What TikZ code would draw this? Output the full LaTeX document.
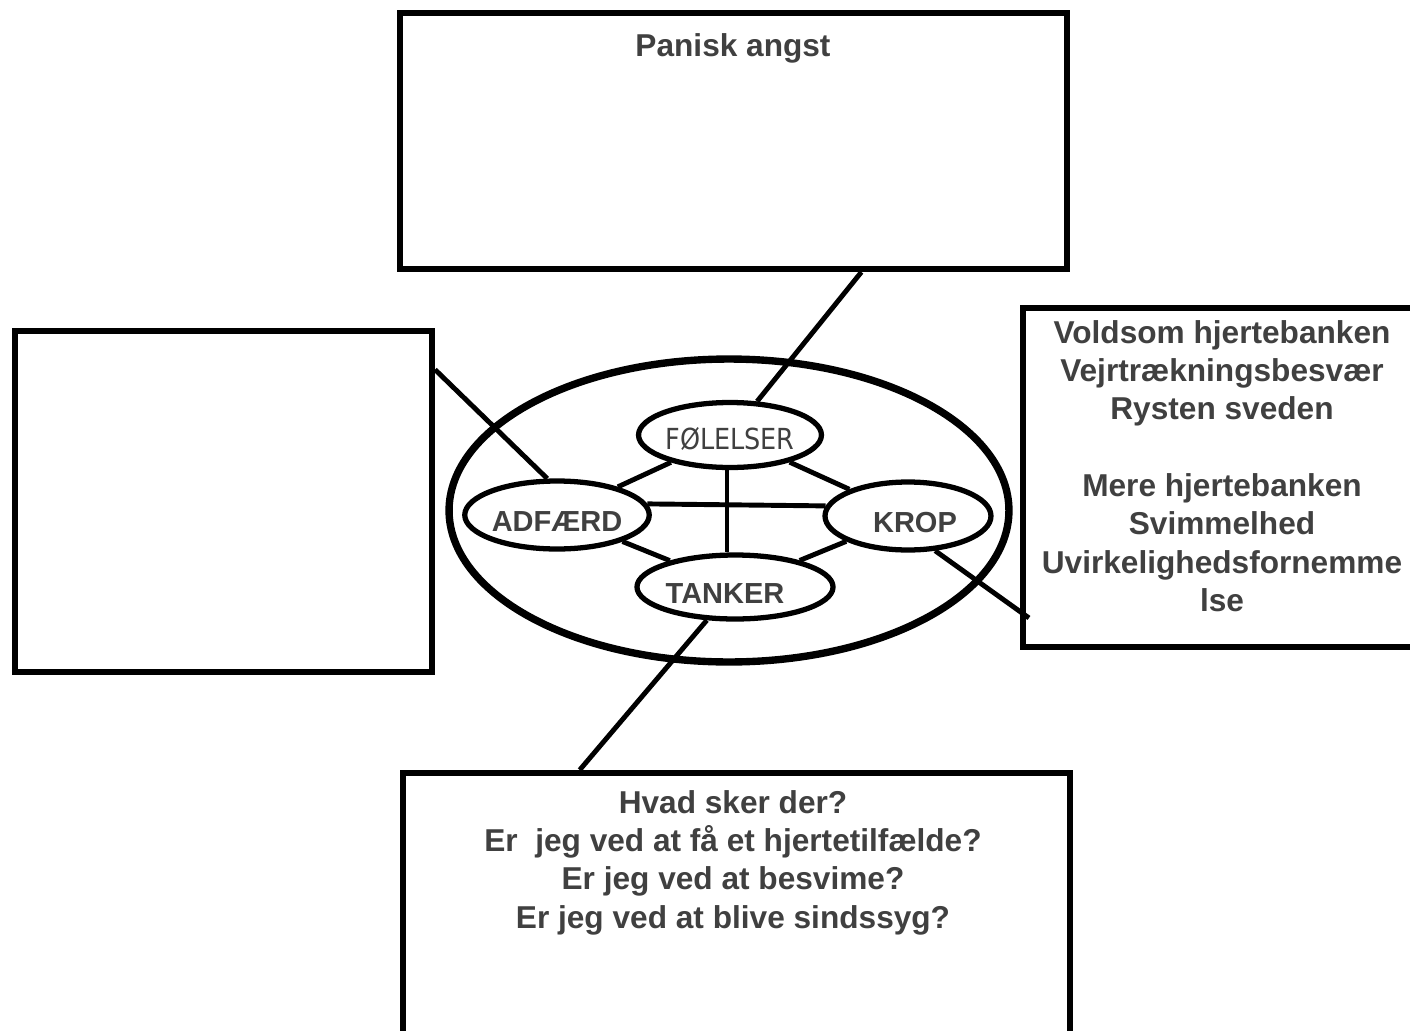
\documentclass[tikz,border=0pt]{standalone}
\usepackage{fontspec}
\setmainfont{Liberation Sans}
\newfontfamily\dejavu[FakeStretch=0.88]{DejaVu Sans}
\usetikzlibrary{shapes.geometric,calc}
\definecolor{txtgray}{HTML}{404040}

\begin{document}
\begin{tikzpicture}[
  x=0.02cm, y=-0.02cm,
  box/.style={draw, line width=3.5pt, inner sep=0pt},
  boxtext/.style={font=\fontsize{18}{21.8}\selectfont\bfseries, text=txtgray, align=center, inner sep=0pt},
  rim/.style={ellipse, draw, line width=4.2pt, inner sep=0pt},
  blob/.style={ellipse, draw, line width=3pt, fill=white, inner sep=0pt, text height=19pt, text depth=0pt, font=\fontsize{16.5}{19}\selectfont\bfseries, text=txtgray},
  link/.style={line width=2.8pt}
]
\useasboundingbox (0,0) rectangle (1410,1031);
\clip (0,0) rectangle (1410,1031);

% outer boxes
\node[box, minimum width=13.34cm, minimum height=5.12cm] (angstbox) at (733.5,141) {};
\node[box, minimum width=8.34cm, minimum height=6.82cm] (adfbox) at (223.5,501.5) {};
\node[box, minimum width=8.34cm, minimum height=6.78cm] (kropbox) at (1231.5,477.5) {};
\node[box, minimum width=13.34cm, minimum height=5.74cm] (tankbox) at (736.5,916.5) {};

\node[boxtext, anchor=north] (angsttext) at (733,33) {Panisk angst};
\node[boxtext, anchor=north] (kroptext) at (1222,320) {Voldsom hjertebanken\\Vejrtrækningsbesvær\\Rysten sveden\\[21.8pt]Mere hjertebanken\\Svimmelhed\\Uvirkelighedsfornemme\\lse};
\node[boxtext, anchor=north] (tanktext) at (733,790) {Hvad sker der?\\Er~ jeg ved at få et hjertetilfælde?\\Er jeg ved at besvime?\\Er jeg ved at blive sindssyg?};

% the model
\node[rim, minimum width=11.2cm, minimum height=6.06cm] (model) at (729,510.5) {};
\node[blob, minimum width=3.3cm, minimum height=1.3cm, font=\dejavu\fontsize{16.5}{19}\selectfont, text height=17pt] (fol) at (730,435) {FØLELSER};
\node[blob, minimum width=3.33cm, minimum height=1.36cm] (adf) at (557,515) {ADFÆRD};
\node[blob, minimum width=3.32cm, minimum height=1.36cm] (krop) at (908,516) {\hspace*{0.28cm}KROP};
\node[blob, minimum width=3.4cm, minimum height=1.28cm] (tank) at (735,587) {TANKER\hspace*{0.4cm}};

\draw[link] (fol) -- (adf);
\draw[link] (fol) -- (krop);
\draw[link] (adf) -- (tank);
\draw[link] (krop) -- (tank);
\draw[link] (adf.7) -- (krop.173);
\draw[link] ([xshift=-0.06cm]fol.south) -- ([xshift=-0.06cm]fol.south |- tank.north);

\draw[link] ($(angstbox.south west)!0.69!(angstbox.south east)$) -- (fol);
\draw[link] ($(adfbox.north east)!0.12!(adfbox.south east)$) -- (adf.105);
\draw[link] (krop.-52) -- ($(kropbox.north west)!0.907!(kropbox.south west)+(9,0)$);
\draw[link] (tank) -- ($(tankbox.north west)!0.267!(tankbox.north east)$);
\end{tikzpicture}
\end{document}
